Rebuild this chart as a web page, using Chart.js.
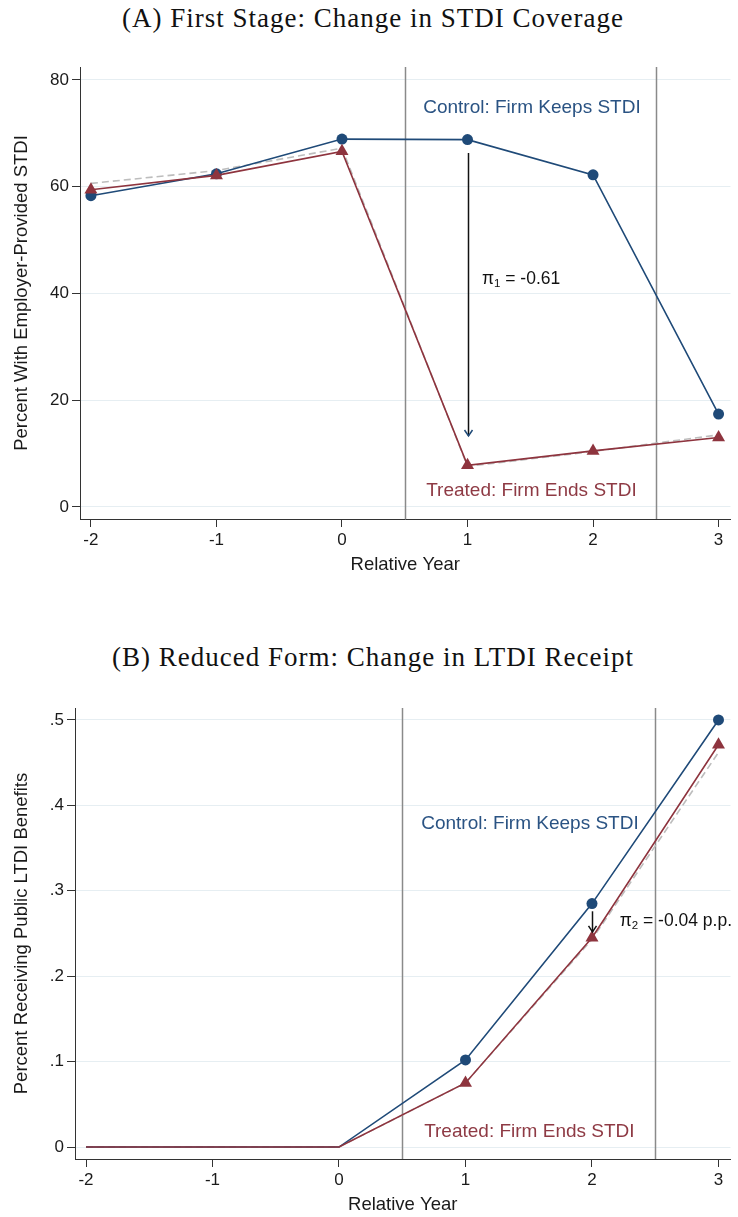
<!DOCTYPE html>
<html lang="en">
<head>
<meta charset="UTF-8">
<title>First Stage and Reduced Form</title>
<script src="https://cdn.jsdelivr.net/npm/chart.js"></script>
<style>
  body { margin: 0; background: #fff; width: 738px; height: 1217px; position: relative; overflow: hidden; }
  .title { position: absolute; left: 0; width: 746px; text-align: center; font-family: 'Liberation Serif', 'DejaVu Serif', serif; font-size: 27px; letter-spacing: 1px; color: #111; line-height: 30px; }
  .box { position: absolute; left: 0; width: 738px; height: 536px; }
</style>
</head>
<body>
<div class="title" style="top:3px">(A) First Stage: Change in STDI Coverage</div>
<div class="box" style="top:40px"><canvas id="chartA"></canvas></div>
<div class="title" style="top:642px">(B) Reduced Form: Change in LTDI Receipt</div>
<div class="box" style="top:680px"><canvas id="chartB"></canvas></div>

<script>
// relative years
const years = [-2, -1, 0, 1, 2, 3];
const xTicks = [-2, -1, 0, 1, 2, 3];

// panel A: percent with employer-provided STDI
const stdiControl = [58.3, 62.4, 68.9, 68.8, 62.2, 17.4];
const stdiTreated = [59.4, 62.1, 66.6, 7.8, 10.5, 13.0];
const stdiDashed  = [60.6, 63.0, 67.2, 7.6, 10.4, 13.5];
const stdiTicks = [0, 20, 40, 60, 80];

// panel B: percent receiving public LTDI benefits
const ltdiControl = [0, 0, 0, 0.102, 0.285, 0.500];
const ltdiTreated = [0, 0, 0, 0.075, 0.245, 0.471];
const ltdiDashed  = [0, 0, 0, 0.075, 0.243, 0.462];
const ltdiTicks = [0, 0.1, 0.2, 0.3, 0.4, 0.5];

const blue = '#1f4a78';
const red = '#8e343e';
const grey = '#bdbdbd';
const sans = "'Liberation Sans', Arial, sans-serif";

Chart.defaults.font.family = sans;
Chart.defaults.color = '#1a1a1a';

// vertical reference lines, text labels and arrows
const decor = {
  id: 'decor',
  beforeDatasetsDraw(chart, args, o) {
    const { ctx, chartArea: a, scales: { x } } = chart;
    ctx.save();
    ctx.strokeStyle = '#8a8a8a';
    ctx.lineWidth = 1.5;
    o.vlines.forEach(v => {
      const px = Math.round(x.getPixelForValue(v)) + 0.5;
      ctx.beginPath();
      ctx.moveTo(px, a.top);
      ctx.lineTo(px, a.bottom);
      ctx.stroke();
    });
    ctx.restore();
  },
  afterDatasetsDraw(chart, args, o) {
    const { ctx, scales: { x, y } } = chart;
    ctx.save();
    ctx.textBaseline = 'middle';
    ctx.textAlign = 'left';
    o.labels.forEach(l => {
      ctx.fillStyle = l.color;
      ctx.font = '19px ' + sans;
      ctx.fillText(l.text, x.getPixelForValue(l.x), y.getPixelForValue(l.y));
    });
    // pi label with subscript
    const p = o.pi;
    let px = x.getPixelForValue(p.x);
    const py = y.getPixelForValue(p.y);
    ctx.fillStyle = '#111';
    ctx.font = '17.5px ' + sans;
    ctx.fillText('π', px, py);
    px += ctx.measureText('π').width;
    ctx.font = '11.5px ' + sans;
    ctx.fillText(p.sub, px, py + 5);
    px += ctx.measureText(p.sub).width;
    ctx.font = '17.5px ' + sans;
    ctx.fillText(p.rest, px, py);
    // arrow
    const ar = o.arrow;
    const ax = Math.round(x.getPixelForValue(ar.x)) + 0.5;
    const y0 = y.getPixelForValue(ar.from);
    const y1 = y.getPixelForValue(ar.to);
    ctx.strokeStyle = '#111';
    ctx.lineWidth = 1.5;
    ctx.beginPath();
    ctx.moveTo(ax, y0);
    ctx.lineTo(ax, y1);
    ctx.stroke();
    ctx.strokeStyle = ar.head;
    ctx.beginPath();
    ctx.moveTo(ax - 4, y1 - 6);
    ctx.lineTo(ax, y1);
    ctx.lineTo(ax + 4, y1 - 6);
    ctx.stroke();
    ctx.restore();
  }
};

function makeChart(id, s) {
  // markers are only shown from year s.markFrom on
  const rad = r => c => (c.raw && c.raw.x < s.markFrom ? 0 : r);
  return new Chart(document.getElementById(id), {
    type: 'line',
    data: {
      datasets: [
        { data: years.map((v, i) => ({ x: v, y: s.treated[i] })), borderColor: red, backgroundColor: red,
          borderWidth: 1.6, pointStyle: 'triangle', pointRadius: rad(7.5), pointBorderWidth: 0 },
        { data: years.map((v, i) => ({ x: v, y: s.control[i] })), borderColor: blue, backgroundColor: blue,
          borderWidth: 1.6, pointStyle: 'circle', pointRadius: rad(5.5), pointBorderWidth: 0 },
        { data: years.map((v, i) => ({ x: v, y: s.dashed[i] })), borderColor: grey,
          borderWidth: 1.6, borderDash: [7, 4], pointRadius: 0 }
      ]
    },
    options: {
      responsive: true,
      maintainAspectRatio: false,
      animation: false,
      layout: { padding: { top: s.padTop, right: 6, left: 0, bottom: 0 } },
      plugins: {
        legend: { display: false },
        tooltip: { enabled: false },
        decor: s.decor
      },
      scales: {
        x: {
          type: 'linear', min: -2.087, max: 3.095,
          afterBuildTicks: sc => { sc.ticks = xTicks.map(v => ({ value: v })); },
          afterFit: sc => { sc.height = 57; },
          grid: { drawOnChartArea: false, tickLength: 8, tickColor: '#333', lineWidth: 1 },
          border: { color: '#333', width: 1 },
          ticks: { font: { size: 17 }, padding: 3, maxRotation: 0 },
          title: { display: true, text: 'Relative Year', font: { size: 18.5 }, padding: 0 }
        },
        y: {
          min: s.yMin, max: s.yMax,
          afterBuildTicks: sc => { sc.ticks = s.yTicks.map(v => ({ value: v })); },
          afterFit: sc => { sc.width = s.axisW; },
          grid: { color: '#e6eef2', lineWidth: 1, tickLength: 8, tickColor: '#333' },
          border: { color: '#333', width: 1 },
          ticks: { font: { size: 17 }, padding: 3, callback: s.fmt },
          title: { display: true, text: s.yTitle, font: { size: 18.5 }, padding: { top: 11, bottom: 0 } }
        }
      }
    },
    plugins: [decor]
  });
}

makeChart('chartA', {
  treated: stdiTreated, control: stdiControl, dashed: stdiDashed,
  yTicks: stdiTicks, yMin: -2.25, yMax: 82.4, padTop: 27, axisW: 80, markFrom: -2,
  yTitle: 'Percent With Employer-Provided STDI',
  fmt: v => String(v),
  decor: {
    vlines: [0.5, 2.5],
    labels: [
      { text: 'Control: Firm Keeps STDI', x: 0.647, y: 74.8, color: '#2a5383' },
      { text: 'Treated: Firm Ends STDI', x: 0.671, y: 3.0, color: '#8e3a44' }
    ],
    pi: { x: 1.115, y: 42.7, sub: '1', rest: ' = -0.61' },
    arrow: { x: 1, from: 66.3, to: 13.3, head: blue }
  }
});

makeChart('chartB', {
  treated: ltdiTreated, control: ltdiControl, dashed: ltdiDashed,
  yTicks: ltdiTicks, yMin: -0.014, yMax: 0.514, padTop: 28, axisW: 75, markFrom: 1,
  yTitle: 'Percent Receiving Public LTDI Benefits',
  fmt: v => (v === 0 ? '0' : String(v).replace(/^0/, '')),
  decor: {
    vlines: [0.5, 2.5],
    labels: [
      { text: 'Control: Firm Keeps STDI', x: 0.650, y: 0.3787, color: '#2a5383' },
      { text: 'Treated: Firm Ends STDI', x: 0.673, y: 0.0176, color: '#8e3a44' }
    ],
    pi: { x: 2.219, y: 0.265, sub: '2', rest: ' = -0.04 p.p.' },
    arrow: { x: 2, from: 0.276, to: 0.252, head: '#111' }
  }
});
</script>
</body>
</html>
